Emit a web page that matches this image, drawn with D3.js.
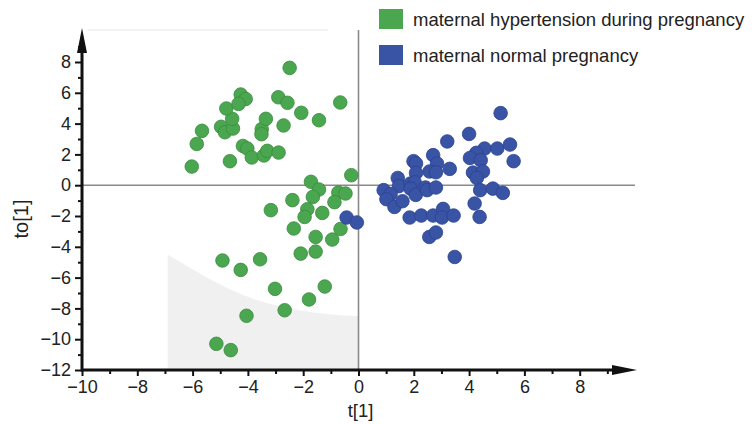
<html>
<head>
<meta charset="utf-8">
<script src="https://d3js.org/d3.v7.min.js"></script>
<style>
  body { margin: 0; background: #fff; }
  text { font-family: "Liberation Sans", Arial, sans-serif; fill: #222; }
</style>
</head>
<body>
<svg id="chart" width="752" height="424"></svg>
<script>
// series: maternal hypertension during pregnancy (green)
var hyperT = [-2.49,-6.03,-5.85,-5.66,-4.97,-4.83,-4.54,-4.57,-4.78,-4.26,-4.08,-4.34,-4.65,-4.18,-4.02,-3.86,-3.42,-3.30,-2.89,-3.50,-3.51,-3.35,-2.71,-2.90,-2.57,-2.07,-1.43,-0.66,-0.26,-1.72,-1.43,-1.65,-2.39,-0.73,-0.47,-0.87,
  -3.17,-1.85,-1.95,-1.31,-2.34,-1.55,-0.95,-0.65,-2.09,-1.55,-3.56,
  -4.92,-4.26,-3.02,-2.67,-1.79,-1.22,-4.05,-5.14,-4.62];
var hyperO = [7.62,1.21,2.68,3.53,3.79,3.44,3.68,4.31,4.98,5.89,5.60,5.28,1.56,2.55,2.38,1.80,1.93,2.23,2.12,3.64,3.31,4.31,3.88,5.71,5.35,4.70,4.22,5.37,0.65,0.22,-0.28,-0.76,-0.97,-0.48,-0.54,-1.10,
  -1.62,-1.56,-2.06,-1.80,-2.81,-3.36,-3.53,-2.84,-4.44,-4.31,-4.81,
  -4.89,-5.50,-6.73,-8.12,-7.42,-6.58,-8.48,-10.30,-10.71];

// series: maternal normal pregnancy (blue)
var normalT = [3.21,2.70,2.84,1.99,2.08,3.30,2.57,2.80,2.08,1.42,1.46,1.88,2.03,1.88,2.07,2.42,2.48,2.80,0.91,1.16,1.01,1.30,1.59,1.85,2.27,2.70,3.06,3.02,3.44,2.56,2.80,3.48,
  5.14,4.00,4.56,5.02,5.48,4.26,4.03,4.42,5.61,4.14,4.50,4.28,4.40,4.86,5.22,4.20,4.38,
  -0.43,-0.06];
var normalO = [2.84,1.95,1.41,1.56,1.41,1.06,0.89,0.84,0.80,0.47,-0.06,0.11,0.19,-0.22,-0.63,-0.15,-0.32,-0.15,-0.32,-0.58,-0.91,-1.41,-1.04,-2.10,-1.97,-1.97,-1.54,-2.10,-1.97,-3.36,-3.07,-4.66,
  4.68,3.33,2.38,2.38,2.64,2.10,1.77,1.62,1.56,0.82,0.89,0.47,-0.32,-0.22,-0.50,-1.19,-2.06,
  -2.10,-2.42];

// grey shaded band in the lower left
var shadeT = [-6.9,-6,-5,-4,-3,-2,-1,0];
var shadeTop = [-4.5,-5.45,-6.45,-7.25,-7.8,-8.15,-8.4,-8.5];

var legendLabels = ["maternal hypertension during pregnancy", "maternal normal pregnancy"];
var xTicks = [-10,-8,-6,-4,-2,0,2,4,6,8];
var xMinor = [-9,-7,-5,-3,-1,1,3,5,7,9];
var yTicks = [-12,-10,-8,-6,-4,-2,0,2,4,6,8];
var yMinor = [-11,-9,-7,-5,-3,-1,1,3,5,7,9];

var green = "#4aa74f", greenEdge = "#3a8a3f";
var blue = "#3953a5", blueEdge = "#2b4290";

var svg = d3.select("#chart");

var x = d3.scaleLinear().domain([-10, 10]).range([82, 635]);
var y = d3.scaleLinear().domain([-12, 9]).range([370, 46.6]);

// shaded area
var shade = shadeT.map(function(d, i) { return [d, shadeTop[i]]; });
var area = d3.area()
  .x(function(d) { return x(d[0]); })
  .y0(y(-12))
  .y1(function(d) { return y(d[1]); })
  .curve(d3.curveMonotoneX);
svg.append("path").attr("d", area(shade)).attr("fill", "#f0f0f0");

// faint top border
svg.append("line")
  .attr("x1", x(-9.8)).attr("x2", x(-1.1))
  .attr("y1", 30).attr("y2", 30)
  .attr("stroke", "#eeeeee").attr("stroke-width", 1.5);

// zero lines
svg.append("line")
  .attr("x1", x(-10)).attr("x2", x(10))
  .attr("y1", y(0)).attr("y2", y(0))
  .attr("stroke", "#8a8a8a").attr("stroke-width", 1.6);
svg.append("line")
  .attr("x1", x(0)).attr("x2", x(0))
  .attr("y1", 30).attr("y2", y(-12))
  .attr("stroke", "#8a8a8a").attr("stroke-width", 1.6);

// points
var hyper = hyperT.map(function(d, i) { return [d, hyperO[i]]; });
var normal = normalT.map(function(d, i) { return [d, normalO[i]]; });

svg.selectAll("circle.hyper").data(hyper).enter().append("circle")
  .attr("class", "hyper")
  .attr("cx", function(d) { return x(d[0]); })
  .attr("cy", function(d) { return y(d[1]); })
  .attr("r", 6.8)
  .attr("fill", green).attr("stroke", greenEdge).attr("stroke-width", 0.8);

svg.selectAll("circle.normal").data(normal).enter().append("circle")
  .attr("class", "normal")
  .attr("cx", function(d) { return x(d[0]); })
  .attr("cy", function(d) { return y(d[1]); })
  .attr("r", 6.8)
  .attr("fill", blue).attr("stroke", blueEdge).attr("stroke-width", 0.8);

// axes
var fmt = d3.format("d");
var gx = svg.append("g").attr("transform", "translate(0," + y(-12) + ")");
gx.call(d3.axisBottom(x).tickValues(xTicks).tickSize(6).tickFormat(fmt));
var gxm = svg.append("g").attr("transform", "translate(0," + y(-12) + ")");
gxm.call(d3.axisBottom(x).tickValues(xMinor).tickSize(4).tickFormat(""));

var gy = svg.append("g").attr("transform", "translate(" + x(-10) + ",0)");
gy.call(d3.axisLeft(y).tickValues(yTicks).tickSize(7).tickFormat(fmt));
var gym = svg.append("g").attr("transform", "translate(" + x(-10) + ",0)");
gym.call(d3.axisLeft(y).tickValues(yMinor).tickSize(4).tickFormat(""));

[gx, gxm, gy, gym].forEach(function(g) {
  g.select(".domain").remove();
  g.selectAll(".tick line").attr("stroke", "#111").attr("stroke-width", 2);
  g.selectAll(".tick text")
    .attr("font-size", 18)
    .attr("fill", "#222")
    .style("font-family", "'Liberation Sans', Arial, sans-serif");
});
gx.selectAll(".tick text").attr("dy", "0.95em").attr("y", 6);
gy.selectAll(".tick text").attr("x", -11);

// axis lines with arrows
var x0 = x(-10), y0 = y(-12);
svg.append("line")
  .attr("x1", x0).attr("x2", 615).attr("y1", y0).attr("y2", y0)
  .attr("stroke", "#111").attr("stroke-width", 3);
svg.append("path")
  .attr("d", "M612," + (y0 - 5) + "L637," + y0 + "L612," + (y0 + 5) + "Z")
  .attr("fill", "#111");
svg.append("line")
  .attr("x1", x0).attr("x2", x0).attr("y1", y0 + 1.5).attr("y2", 50)
  .attr("stroke", "#111").attr("stroke-width", 3);
svg.append("path")
  .attr("d", "M" + (x0 - 5) + ",53L" + x0 + ",28L" + (x0 + 5) + ",53Z")
  .attr("fill", "#111");

// axis titles
svg.append("text")
  .attr("x", x(0) + 2).attr("y", 417)
  .attr("text-anchor", "middle")
  .attr("font-size", 18.5)
  .text("t[1]");
svg.append("text")
  .attr("transform", "translate(28,219) rotate(-90)")
  .attr("text-anchor", "middle")
  .attr("font-size", 20)
  .text("to[1]");

// legend
var legendColors = [green, blue];
var legend = svg.selectAll("g.legend").data(legendLabels).enter().append("g")
  .attr("class", "legend")
  .attr("transform", function(d, i) { return "translate(379," + (9 + i * 36) + ")"; });
legend.append("rect")
  .attr("width", 24).attr("height", 20)
  .attr("fill", function(d, i) { return legendColors[i]; });
legend.append("text")
  .attr("x", 34).attr("y", 17)
  .attr("font-size", 18.5)
  .text(function(d) { return d; });
</script>
</body>
</html>
